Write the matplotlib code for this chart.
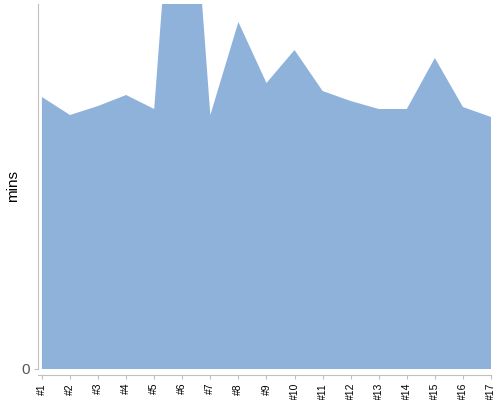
import matplotlib
matplotlib.use("Agg")
import matplotlib.pyplot as plt

plt.rcParams["font.family"] = ["Liberation Sans", "DejaVu Sans"]

labels = ["#%d" % i for i in range(1, 18)]
mins = [272, 254, 263, 274, 260, 634, 254, 347, 286, 319, 278, 268, 260, 260, 311, 262, 252]

fig = plt.figure(figsize=(5, 4), dpi=100)
ax = fig.add_axes([0.076, 0.0775, 0.906, 0.9125])

x = list(range(len(labels)))
ax.fill_between(x, 0, mins, color="#8fb2da", linewidth=0)

ax.set_xlim(-0.14, len(labels) - 1)
ax.set_ylim(0, 365)

ax.set_xticks(x, labels)
ax.set_yticks([0], ["0"])
fig.text(0.026, 0.535, "mins", rotation=90, fontsize=11, ha="center", va="center")

for s in ["top", "right"]:
    ax.spines[s].set_visible(False)
ax.spines["bottom"].set_position(("outward", 4))
ax.spines["left"].set_color("#c0c0c0")
ax.spines["bottom"].set_color("#c0c0c0")
ax.tick_params(axis="x", length=3, color="#c0c0c0", pad=3, labelrotation=90, labelsize=7.5)
ax.tick_params(axis="y", length=3, color="#c0c0c0", pad=3, labelsize=11, labelcolor="#555555")

fig.savefig("out.png", dpi=100)
